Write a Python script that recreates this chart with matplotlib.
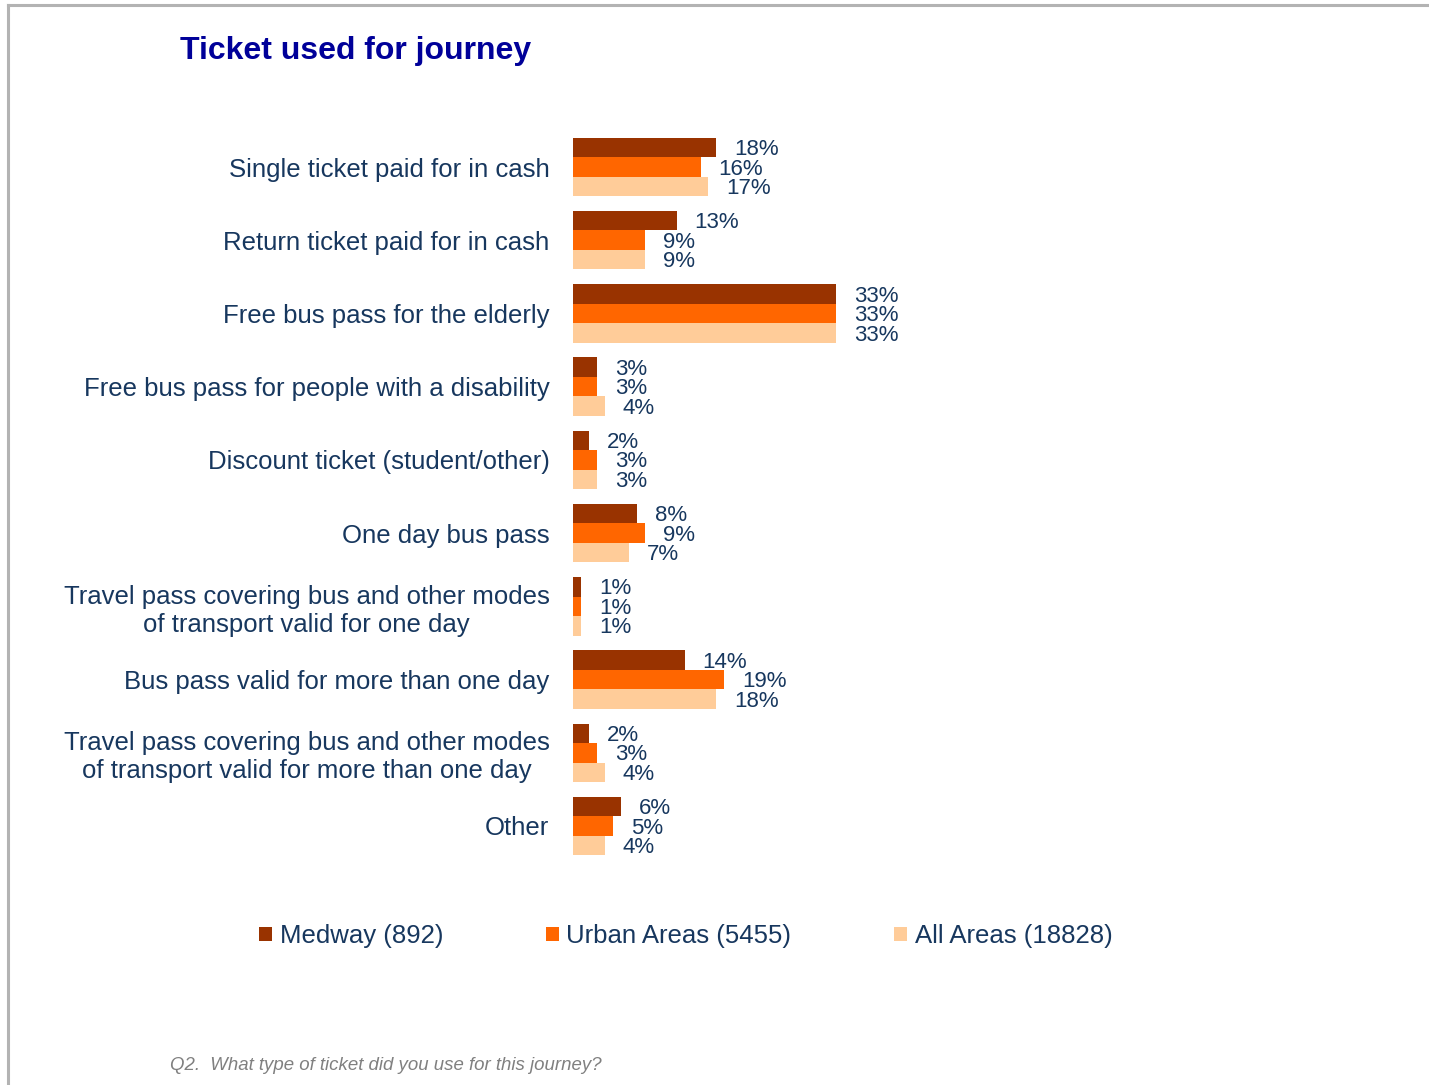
import numpy as np
import matplotlib
matplotlib.use('Agg')
import matplotlib.pyplot as plt
from matplotlib.lines import Line2D
from matplotlib.patches import Patch

plt.rcParams['font.family'] = ['Liberation Sans', 'DejaVu Sans']

# data
categories = ["Single ticket paid for in cash",
              "Return ticket paid for in cash",
              "Free bus pass for the elderly",
              "Free bus pass for people with a disability",
              "Discount ticket (student/other)",
              "One day bus pass",
              "Travel pass covering bus and other modes\nof transport valid for one day",
              "Bus pass valid for more than one day",
              "Travel pass covering bus and other modes\nof transport valid for more than one day",
              "Other"]
medway = [18, 13, 33, 3, 2, 8, 1, 14, 2, 6]
urban = [16, 9, 33, 3, 3, 9, 1, 19, 3, 5]
all_areas = [17, 9, 33, 4, 3, 7, 1, 18, 4, 4]
series_names = ["Medway (892)", "Urban Areas (5455)", "All Areas (18828)"]
colors = ['#993300', '#FF6600', '#FFCC99']

W, H = 1429, 1085
fig = plt.figure(figsize=(W/100, H/100), dpi=100)

# axes in pixel terms: x from 573 to 1370, groups centred 167..826
x0, x1 = 573, 1370
y_top, y_bot = 130.4, 862.6
ax = fig.add_axes([x0/W, 1 - y_bot/H, (x1 - x0)/W, (y_bot - y_top)/H])

txt_col = '#17375E'
n = len(categories)
pos = np.arange(n)
bh = 0.266
for k, (vals, c) in enumerate(zip([medway, urban, all_areas], colors)):
    ypos = pos + (k - 1) * bh
    ax.barh(ypos, vals, height=bh, color=c, label=series_names[k])
    for y, v in zip(ypos, vals):
        ax.annotate(f"{v}%", (v, y), xytext=(13, -1.5), textcoords='offset points',
                    va='center', ha='left', fontsize=16, color=txt_col)

ax.set_xlim(0, 100)
ax.set_ylim(n - 0.5, -0.5)
ax.set_yticks(pos)
ax.set_yticklabels(categories, fontsize=18.5, color=txt_col)
for lbl in ax.get_yticklabels():
    lbl.set_multialignment('center')
ax.tick_params(axis='y', length=0, pad=17)
ax.set_xticks([])
for s in ax.spines.values():
    s.set_visible(False)

# legend
handles = [Patch(facecolor=c, edgecolor='none') for c in colors]
fig.legend(handles, series_names, loc='center left', bbox_to_anchor=(259/W, 1 - 936/H),
           ncol=3, frameon=False, fontsize=18.5, labelcolor=txt_col,
           handlelength=0.5, handleheight=0.5, handletextpad=0.3,
           columnspacing=4.0, borderaxespad=0, borderpad=0)

fig.text(180/W, 1 - 51/H, "Ticket used for journey", fontsize=23, fontweight='bold',
         color='#000099', va='center', ha='left')
fig.text(170/W, 1 - 1066/H, "Q2.  What type of ticket did you use for this journey?",
         fontsize=13.4, style='italic', color='#808080', va='center', ha='left')

# slide frame
fig.add_artist(Line2D([8/W, 8/W], [0, 1 - 5/H], color='#B3B3B3', lw=2.2))
fig.add_artist(Line2D([8/W, 1], [1 - 5/H, 1 - 5/H], color='#B3B3B3', lw=2.2))

fig.savefig('out.png', dpi=100, facecolor='white')
